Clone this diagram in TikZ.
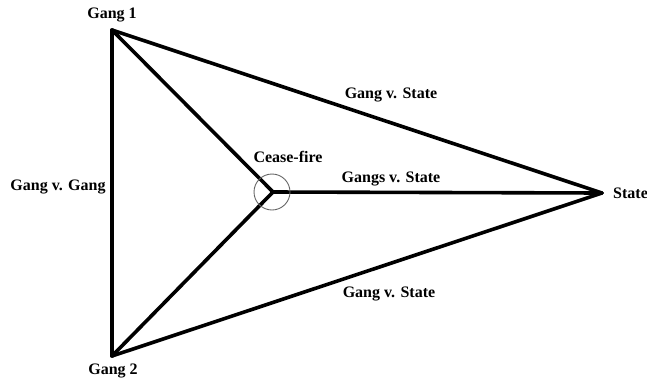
\documentclass[tikz,border=0pt]{standalone}
\usepackage{fontspec}
\setmainfont{Liberation Serif}
\begin{document}
\begin{tikzpicture}[x=1pt,y=-1pt,
  edge/.style={line width=3.6pt,line join=miter,line cap=round},
  lbl/.style={font=\fontsize{16}{18}\selectfont\bfseries,inner sep=0pt}]
\useasboundingbox (0,0) rectangle (647,378);
\coordinate (g1) at (112,30);
\coordinate (g2) at (112,356);
\coordinate (st) at (602,193);
\coordinate (c) at (273,192);
\draw[edge] (g1) -- (g2);
\draw[edge] (g1) -- (st);
\draw[edge] (g2) -- (st);
\draw[edge] (g1) -- (c);
\draw[edge] (g2) -- (c);
\draw[edge] (c) -- (st);
\draw[gray!80!black,line width=0.9pt] (272,192) circle[radius=18];
\node[lbl] (l1) at (112,15) {Gang 1};
\node[lbl] (l2) at (113,371) {Gang 2};
\node[lbl,anchor=west] (l3) at (613,193) {State};
\node[lbl] (l4) at (58,187) {Gang v. Gang};
\node[lbl] (l5) at (391,95) {Gang v. State};
\node[lbl] (l6) at (389,294) {Gang v. State};
\node[lbl] (l7) at (391,179) {Gangs v. State};
\node[lbl] (l8) at (288,157) {Cease-fire};
\end{tikzpicture}
\end{document}
